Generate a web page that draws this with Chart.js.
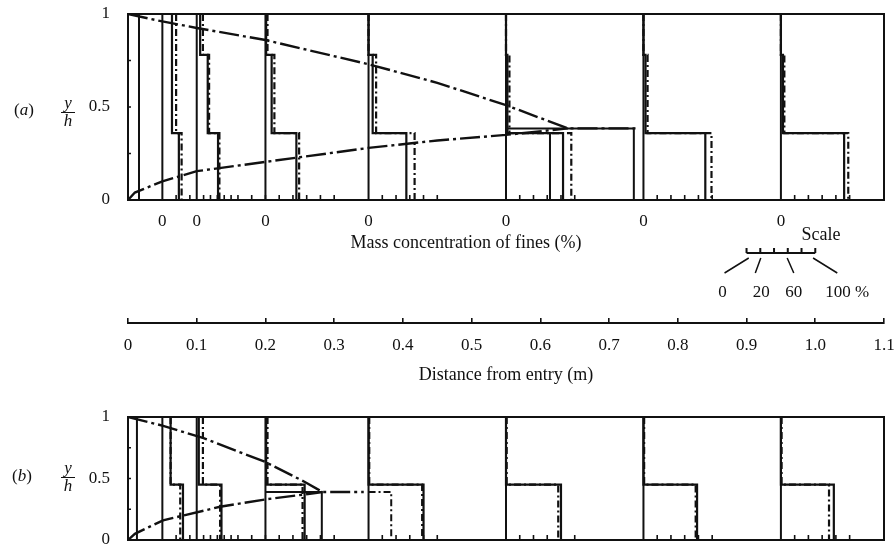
<!DOCTYPE html>
<html><head><meta charset="utf-8">
<script src="https://cdn.jsdelivr.net/npm/chart.js@4.4.1/dist/chart.umd.min.js"></script>
<style>
html,body{margin:0;padding:0;background:#fff;}
#wrap{position:relative;width:896px;height:549px;overflow:hidden;font-family:"Liberation Serif","DejaVu Serif",serif;color:#111;}
canvas{position:absolute;}
.t{position:absolute;white-space:nowrap;line-height:1;transform:translate(-50%,-50%);}
.frac{position:absolute;display:flex;flex-direction:column;align-items:center;font-size:17px;line-height:14px;width:16px;transform:translateX(-50%);}
.frac .bar{width:14px;border-top:1.5px solid #111;margin:2px 0 1px 0;}
</style></head><body>
<div id="wrap">
<canvas id="ca" width="896" height="300" style="left:0;top:0;width:896px;height:300px"></canvas>
<canvas id="cd" width="896" height="100" style="left:0;top:300px;width:896px;height:100px"></canvas>
<canvas id="cb" width="896" height="149" style="left:0;top:400px;width:896px;height:149px"></canvas>

<div class="t" style="left:24px;top:109px;font-size:17px">(<i>a</i>)</div>
<div class="frac" style="left:68px;top:96px"><i>y</i><span class="bar"></span><i>h</i></div>
<div class="t" style="left:22px;top:475px;font-size:17px">(<i>b</i>)</div>
<div class="frac" style="left:68px;top:461px"><i>y</i><span class="bar"></span><i>h</i></div>

<div class="t" style="left:466px;top:242px;font-size:18px">Mass concentration of fines (%)</div>
<div class="t" style="left:821px;top:234px;font-size:18px">Scale</div>
<div id="scaleLabels"></div>
</div>
<script>
// ---------------- data ----------------
const stations = [0.05, 0.1, 0.2, 0.35, 0.55, 0.75, 0.95];   // distance from entry (m)
const yhTicks = [0, 0.5, 1];
const yhMinorTicks = [0.25, 0.5, 0.75];
const distTicks = [0, 0.1, 0.2, 0.3, 0.4, 0.5, 0.6, 0.7, 0.8, 0.9, 1.0, 1.1];
const concTicks = [20, 40, 60, 80, 100];          // % ticks along the bottom of each profile
const scaleTicks = [0, 20, 40, 60, 80, 100];      // % ticks of the scale bar
const scaleLabels = [0, 20, 60, 100];             // % labels of the scale bar
const scaleOrigin = 0.9;                          // m, where the scale bar starts
const PCT_TO_M = 0.001;                           // 100 % drawn as 0.1 m

// inlet (x = 0) uniform concentration (%)
const inletA = 16;
const inletB = 13;

// Panel (a): layer boundaries (y/h) and concentrations (%) per station
const aBreaks = [1, 0.78, 0.36, 0];
const aSolidTop = [14, 5, 1, 0, 0, 0, 0];
const aSolidMid = [14, 16, 9, 6, 2, 3, 3];
const aSolidBot = [24, 31, 45, 55, 83, 90, 92];
const aDashTop  = [20, 9, 3, 0, 0, 0, 0];
const aDashMid  = [20, 18, 13, 11, 5, 6, 5];
const aDashBot  = [28, 33, 49, 67, 95, 99, 98];
const aExtraStation = [0.55, 0.55];
const aExtraTop     = [0.36, 0.385];
const aExtraConc    = [64, 186];
const aExtraDashed  = [false, false];
const aUpperX = [0, 0.05, 0.1, 0.2, 0.35, 0.45, 0.55, 0.64, 0.74];
const aUpperY = [1, 0.96, 0.925, 0.86, 0.73, 0.63, 0.51, 0.385, 0.385];
const aLowerX = [0, 0.01, 0.05, 0.1, 0.2, 0.35, 0.45, 0.55, 0.64];
const aLowerY = [0, 0.04, 0.1, 0.155, 0.205, 0.28, 0.32, 0.35, 0.385];

// Panel (b)
const bBreaks = [1, 0.45, 0];
const bSolidTop = [12, 3, 1, 0, 0, 0, 0];
const bSolidBot = [30, 36, 57, 80, 80, 78, 77];
const bDashTop  = [12, 9, 3, 1, 1, 1, 1];
const bDashBot  = [26, 34, 54, 78, 76, 76, 70];
const bExtraStation = [0.2, 0.35];
const bExtraTop     = [0.39, 0.39];
const bExtraConc    = [82, 33];
const bExtraDashed  = [false, true];
const bUpperX = [0, 0.05, 0.109, 0.2, 0.258, 0.283, 0.343];
const bUpperY = [1, 0.93, 0.83, 0.634, 0.47, 0.39, 0.39];
const bLowerX = [0, 0.01, 0.051, 0.134, 0.2, 0.27, 0.283];
const bLowerY = [0, 0.05, 0.16, 0.27, 0.33, 0.38, 0.39];

// ---------------- styles ----------------
const INK = '#111';
Chart.defaults.font.family = '"Liberation Serif","DejaVu Serif",serif';
Chart.defaults.color = INK;
const GAP = {x: null, y: null};
const CURVE_DASH = [20, 4, 3, 4];
const PROFILE_DASH = [7, 3, 2, 3];

// ---------------- builders ----------------
function profilePoints(layers, breaks) {
  const pts = [];
  stations.forEach((st, i) => {
    layers.forEach((arr, j) => {
      const x = st + arr[i] * PCT_TO_M;
      pts.push({x, y: breaks[j]}, {x, y: breaks[j + 1]});
    });
    pts.push(GAP);
  });
  return pts;
}
function zeroLines() {
  const pts = [];
  stations.forEach(st => { pts.push({x: st, y: 1}, {x: st, y: 0}, GAP); });
  return pts;
}
function curvePoints(xs, ys) { return xs.map((x, i) => ({x, y: ys[i]})); }
function extraPoints(sts, tops, concs, flags, wantDashed) {
  const pts = [];
  sts.forEach((st, i) => {
    if (flags[i] !== wantDashed) return;
    const x = st + concs[i] * PCT_TO_M;
    pts.push({x: st, y: tops[i]}, {x, y: tops[i]}, {x, y: 0}, GAP);
  });
  return pts;
}
function line(data, width, dash) {
  return {data, showLine: true, borderColor: INK, borderWidth: width, borderDash: dash || [],
          pointRadius: 0, spanGaps: false, fill: false, tension: 0};
}
function noPad(s) { s.paddingTop = 0; s.paddingBottom = 0; s.paddingLeft = 0; s.paddingRight = 0; }

// frame + ticks inside the box
const framePlugin = {
  id: 'frame',
  afterDatasetsDraw(chart) {
    const {ctx, chartArea: a, scales: {x, y}} = chart;
    ctx.save();
    ctx.strokeStyle = INK;
    ctx.lineWidth = 2;
    ctx.strokeRect(a.left, a.top, a.right - a.left, a.bottom - a.top);
    ctx.lineWidth = 1.6;
    ctx.beginPath();
    stations.forEach(st => {
      concTicks.forEach(c => {
        const px = x.getPixelForValue(st + c * PCT_TO_M);
        ctx.moveTo(px, a.bottom); ctx.lineTo(px, a.bottom - 5);
      });
    });
    yhMinorTicks.forEach(v => {
      const py = y.getPixelForValue(v);
      ctx.moveTo(a.left, py); ctx.lineTo(a.left + 3, py);
    });
    ctx.stroke();
    ctx.restore();
  }
};

// scale bar under panel (a)
const scaleBarPlugin = {
  id: 'scalebar',
  afterDraw(chart) {
    const {ctx, scales: {x}} = chart;
    const yBar = 253;
    const x0 = x.getPixelForValue(scaleOrigin);
    const x1 = x.getPixelForValue(scaleOrigin + 100 * PCT_TO_M);
    ctx.save();
    ctx.strokeStyle = INK;
    ctx.lineWidth = 2;
    ctx.beginPath();
    ctx.moveTo(x0, yBar); ctx.lineTo(x1, yBar);
    scaleTicks.forEach(c => {
      const px = x.getPixelForValue(scaleOrigin + c * PCT_TO_M);
      ctx.moveTo(px, yBar); ctx.lineTo(px, yBar - 5);
    });
    ctx.stroke();
    // leader lines to spread-out labels
    const spread = [-22, -5, 6, 22];
    ctx.lineWidth = 1.5;
    ctx.beginPath();
    scaleLabels.forEach((c, i) => {
      const px = x.getPixelForValue(scaleOrigin + c * PCT_TO_M);
      ctx.moveTo(px - spread[i] * 0.1, yBar + 5);
      ctx.lineTo(px + spread[i], yBar + 20);
    });
    ctx.stroke();
    ctx.restore();
    // labels as html text
    const holder = document.getElementById('scaleLabels');
    if (!holder.childNodes.length) {
      const lblOff = [-24, 1, 6, 32];
      scaleLabels.forEach((c, i) => {
        const px = x.getPixelForValue(scaleOrigin + c * PCT_TO_M) + lblOff[i];
        const d = document.createElement('div');
        d.className = 't';
        d.style.left = px + 'px';
        d.style.top = '291px';
        d.style.fontSize = '17px';
        d.textContent = c === 100 ? '100 %' : String(c);
        holder.appendChild(d);
      });
    }
  }
};

function panelChart(id, cfg) {
  const datasets = [
    line(curvePoints(cfg.upX, cfg.upY), 2.4, CURVE_DASH),
    line(curvePoints(cfg.loX, cfg.loY), 2.4, CURVE_DASH),
    line(zeroLines(), 2),
    line([{x: cfg.inlet * PCT_TO_M, y: 1}, {x: cfg.inlet * PCT_TO_M, y: 0}], 2),
    line(profilePoints(cfg.solid, cfg.breaks), 2.2),
    line(profilePoints(cfg.dash, cfg.breaks), 2.2, PROFILE_DASH),
    line(extraPoints(cfg.exSt, cfg.exTop, cfg.exConc, cfg.exDash, false), 2),
    line(extraPoints(cfg.exSt, cfg.exTop, cfg.exConc, cfg.exDash, true), 2, PROFILE_DASH)
  ];
  return new Chart(document.getElementById(id), {
    type: 'scatter',
    data: {datasets},
    options: {
      responsive: false, animation: false, devicePixelRatio: 1,
      layout: {padding: cfg.padding, autoPadding: false},
      plugins: {legend: {display: false}, tooltip: {enabled: false}},
      scales: {
        x: {
          type: 'linear', min: 0, max: 1.1, display: cfg.showX,
          grid: {display: false}, border: {display: false},
          afterBuildTicks: s => { s.ticks = stations.map(v => ({value: v})); },
          ticks: {callback: () => '0', font: {size: 17}, padding: 3, color: INK, maxRotation: 0, autoSkip: false},
          afterFit: s => { s.height = cfg.xHeight; noPad(s); }
        },
        y: {
          type: 'linear', min: 0, max: 1,
          grid: {display: false}, border: {display: false},
          afterBuildTicks: s => { s.ticks = yhTicks.map(v => ({value: v})); },
          ticks: {callback: v => String(v), font: {size: 17}, padding: 10, color: INK},
          afterFit: s => { s.width = 128; noPad(s); }
        }
      }
    },
    plugins: cfg.extraPlugins ? [framePlugin].concat(cfg.extraPlugins) : [framePlugin]
  });
}

panelChart('ca', {
  padding: {top: 14, right: 12, left: 0, bottom: 0}, showX: true, xHeight: 100,
  upX: aUpperX, upY: aUpperY, loX: aLowerX, loY: aLowerY, inlet: inletA,
  breaks: aBreaks, solid: [aSolidTop, aSolidMid, aSolidBot], dash: [aDashTop, aDashMid, aDashBot],
  exSt: aExtraStation, exTop: aExtraTop, exConc: aExtraConc, exDash: aExtraDashed,
  extraPlugins: [scaleBarPlugin]
});

panelChart('cb', {
  padding: {top: 17, right: 12, left: 0, bottom: 9}, showX: false, xHeight: 0,
  upX: bUpperX, upY: bUpperY, loX: bLowerX, loY: bLowerY, inlet: inletB,
  breaks: bBreaks, solid: [bSolidTop, bSolidBot], dash: [bDashTop, bDashBot],
  exSt: bExtraStation, exTop: bExtraTop, exConc: bExtraConc, exDash: bExtraDashed
});

// distance axis between the panels
new Chart(document.getElementById('cd'), {
  type: 'scatter',
  data: {datasets: [{data: []}]},
  options: {
    responsive: false, animation: false, devicePixelRatio: 1,
    layout: {padding: {top: 18, left: 128, right: 12, bottom: 0}, autoPadding: false},
    plugins: {legend: {display: false}, tooltip: {enabled: false}},
    scales: {
      x: {
        type: 'linear', min: 0, max: 1.1,
        afterBuildTicks: s => { s.ticks = distTicks.map(v => ({value: v})); },
        grid: {display: true, drawOnChartArea: true, drawTicks: false, color: INK, lineWidth: 1.6},
        border: {display: true, color: INK, width: 2},
        ticks: {callback: v => (v === 0 ? '0' : v.toFixed(1)), font: {size: 17}, padding: 12, color: INK, maxRotation: 0, autoSkip: false},
        title: {display: true, text: 'Distance from entry (m)', font: {size: 18}, color: INK, padding: {top: 0, bottom: 14}},
        afterFit: s => { s.height = 77; noPad(s); }
      },
      y: {type: 'linear', min: 0, max: 1, display: false}
    }
  }
});
</script>
</body></html>
